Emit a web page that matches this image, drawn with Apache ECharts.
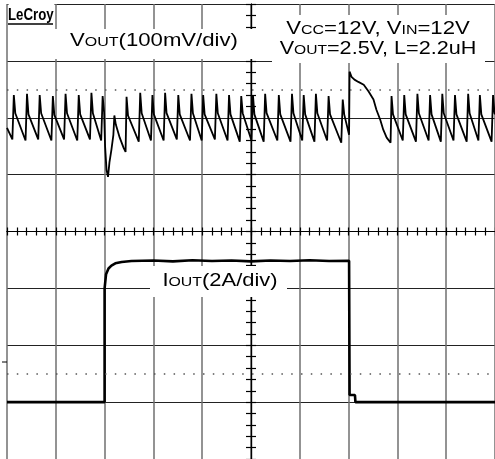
<!DOCTYPE html>
<html>
<head>
<meta charset="utf-8">
<script src="https://cdn.jsdelivr.net/npm/echarts@6/dist/echarts.min.js"></script>
<style>
  html, body { margin: 0; padding: 0; background: #fff; }
  #scope { width: 495px; height: 459px; }
</style>
</head>
<body>
<div id="scope"></div>
<script>
// time in screen divisions (0 = centre of the screen)
// VOUT: ripple in mV (100mV/div, 0 mV sits 2 div above centre)
var vout = [
  [-5.00, -18],
  [-4.89, -38], [-4.86, 40], [-4.83, 8],
  [-4.62, -40], [-4.59, 42], [-4.56, 6],
  [-4.36, -38], [-4.33, 40], [-4.30, 8],
  [-4.09, -40], [-4.06, 38], [-4.03, 5],
  [-3.83, -38], [-3.80, 42], [-3.77, 8],
  [-3.56, -40], [-3.53, 40], [-3.50, 6],
  [-3.30, -38], [-3.27, 44], [-3.24, 8],
  [-3.07, -40], [-3.04, 38], [-3.01, 10],
  // load step
  [-2.99, -50], [-2.96, -92], [-2.93, -104], [-2.90, -78], [-2.86, -56],
  [-2.82, -30], [-2.80, 4], [-2.77, -12], [-2.69, -35], [-2.61, -53], [-2.57, -60],
  [-2.55, 37], [-2.52, 4],
  [-2.30, -42], [-2.27, 44], [-2.24, 8],
  [-2.05, -40], [-2.02, 40], [-1.99, 6],
  [-1.79, -40], [-1.76, 44], [-1.73, 8],
  [-1.52, -38], [-1.49, 40], [-1.46, 6],
  [-1.25, -40], [-1.22, 42], [-1.19, 8],
  [-1.01, -40], [-0.98, 40], [-0.95, 6],
  [-0.74, -38], [-0.71, 42], [-0.68, 8],
  [-0.48, -40], [-0.45, 40], [-0.42, 6],
  [-0.23, -42], [-0.20, 38], [-0.17, 8],
  [0.01, -40], [0.04, 40], [0.07, 6],
  [0.26, -42], [0.29, 42], [0.32, 8],
  [0.54, -40], [0.57, 40], [0.60, 6],
  [0.81, -42], [0.84, 42], [0.87, 8],
  [1.05, -40], [1.08, 40], [1.11, 6],
  [1.30, -42], [1.33, 42], [1.36, 8],
  [1.56, -40], [1.59, 38], [1.62, 6],
  [1.85, -44], [1.88, 32], [1.91, 6],
  // load release
  [2.01, -30], [2.02, 81], [2.06, 72], [2.12, 67], [2.20, 63], [2.31, 58],
  [2.41, 46], [2.51, 32], [2.57, 14], [2.65, -4], [2.71, -21], [2.78, -35], [2.86, -44],
  [2.88, 38], [2.91, 6],
  [3.11, -40], [3.14, 40], [3.17, 6],
  [3.38, -42], [3.41, 42], [3.44, 8],
  [3.64, -40], [3.67, 40], [3.70, 6],
  [3.89, -42], [3.92, 42], [3.95, 8],
  [4.15, -40], [4.18, 40], [4.21, 6],
  [4.42, -42], [4.45, 42], [4.48, 8],
  [4.66, -40], [4.69, 40], [4.72, 6],
  [4.93, -42], [4.96, 40], [4.99, 8],
  [5.00, 6]
];

// IOUT in A (2A/div, 0 A sits 3 div below centre)
var iout = [
  [-5, 0], [-3.0, 0], [-3.0, 4.0], [-2.97, 4.5], [-2.92, 4.7], [-2.86, 4.8],
  [-2.78, 4.88], [-2.65, 4.93], [-2.45, 4.96], [-2.0, 4.98], [-1.6, 4.95],
  [-1.2, 4.99], [-0.8, 4.96], [-0.4, 4.98], [0, 4.95], [0.4, 4.98], [0.8, 4.96],
  [1.2, 4.99], [1.6, 4.96], [2.01, 4.97], [2.02, 0.25], [2.13, 0.25], [2.14, 0], [5, 0]
];

var dotRows = [2.5, -2.5];

var txtVout = '{b|V}{s|OUT}{b|(100mV/div)}';
var txtCond1 = '{b|V}{s|CC}{b|=12V, V}{s|IN}{b|=12V}';
var txtCond2 = '{b|V}{s|OUT}{b|=2.5V, L=2.2uH}';
var txtIout = '{b|I}{s|OUT}{b|(2A/div)}';

var fnt = '"Liberation Sans", Arial, sans-serif';
var rich = {
  b: { font: '18px ' + fnt, fill: '#000', verticalAlign: 'bottom', lineHeight: 20 },
  s: { font: '13px ' + fnt, fill: '#000', verticalAlign: 'bottom', lineHeight: 20, padding: [0, 0, 1, 0] }
};

function tickAxis(pos, len) {
  var vert = pos === 'left' || pos === 'right';
  return {
    type: 'value', min: vert ? -4 : -5, max: vert ? 4 : 5, interval: 0.2, position: pos,
    axisLine: { show: true, onZero: true, onZeroAxisIndex: 0, lineStyle: { color: '#000', width: 1.2 } },
    axisTick: { show: true, length: len, lineStyle: { color: '#000', width: 1.2 } },
    axisLabel: { show: false }, splitLine: { show: false }
  };
}

var chart = echarts.init(document.getElementById('scope'));
chart.setOption({
  animation: false,
  backgroundColor: '#fff',
  grid: { left: 7, right: -2, top: 4, bottom: -1 },
  xAxis: [
    {
      type: 'value', min: -5, max: 5, interval: 1,
      axisLine: { show: false }, axisTick: { show: false }, axisLabel: { show: false },
      splitLine: { show: true, lineStyle: { color: '#6f6f6f', width: 1.5 } }
    },
    tickAxis('bottom', 4),
    tickAxis('top', 4)
  ],
  yAxis: [
    {
      type: 'value', min: -4, max: 4, interval: 1,
      axisLine: { show: false }, axisTick: { show: false }, axisLabel: { show: false },
      splitLine: { show: true, lineStyle: { color: '#222', width: 1.2 } }
    },
    tickAxis('left', 5),
    tickAxis('right', 5),
    { type: 'value', min: -600, max: 200, show: false },
    { type: 'value', min: -2, max: 14, show: false }
  ],
  series: [
    {
      name: 'cursors', type: 'line', yAxisIndex: 0, data: [], silent: true,
      markLine: {
        silent: true, symbol: 'none', label: { show: false },
        lineStyle: { type: [1.5, 8.3], color: '#555', width: 1.5 },
        data: dotRows.map(function (v) { return { yAxis: v }; })
      }
    },
    {
      name: 'VOUT', type: 'line', yAxisIndex: 3, data: vout, symbol: 'none',
      lineStyle: { color: '#000', width: 1.8 }
    },
    {
      name: 'IOUT', type: 'line', yAxisIndex: 4, data: iout, symbol: 'none',
      lineStyle: { color: '#000', width: 2.6 }
    }
  ],
  graphic: [
    { type: 'rect', z: 10, shape: { x: 8.5, y: 0, width: 46, height: 28 }, style: { fill: '#fff' } },
    { type: 'rect', z: 10, shape: { x: 55, y: 29, width: 201, height: 30 }, style: { fill: '#fff' } },
    { type: 'rect', z: 10, shape: { x: 272, y: 15, width: 213, height: 48 }, style: { fill: '#fff' } },
    { type: 'rect', z: 10, shape: { x: 150, y: 266, width: 137, height: 31 }, style: { fill: '#fff' } },
    {
      type: 'text', z: 11, x: 8, y: 15, scaleX: 0.78,
      style: { text: 'LeCroy', font: 'bold 17px ' + fnt, fill: '#000', align: 'left', verticalAlign: 'middle' }
    },
    { type: 'line', z: 11, shape: { x1: 8, y1: 24, x2: 53, y2: 24 }, style: { stroke: '#000', lineWidth: 1.5 } },
    { type: 'line', z: 11, shape: { x1: 2, y1: 362, x2: 7, y2: 362 }, style: { stroke: '#000', lineWidth: 1 } },
    { type: 'text', z: 11, x: 154, y: 40, scaleX: 1.23, style: { text: txtVout, rich: rich, align: 'center', verticalAlign: 'middle' } },
    { type: 'text', z: 11, x: 378, y: 28, scaleX: 1.23, style: { text: txtCond1, rich: rich, align: 'center', verticalAlign: 'middle' } },
    { type: 'text', z: 11, x: 378, y: 48, scaleX: 1.2, style: { text: txtCond2, rich: rich, align: 'center', verticalAlign: 'middle' } },
    { type: 'text', z: 11, x: 220, y: 280, scaleX: 1.22, style: { text: txtIout, rich: rich, align: 'center', verticalAlign: 'middle' } }
  ]
});
</script>
</body>
</html>
